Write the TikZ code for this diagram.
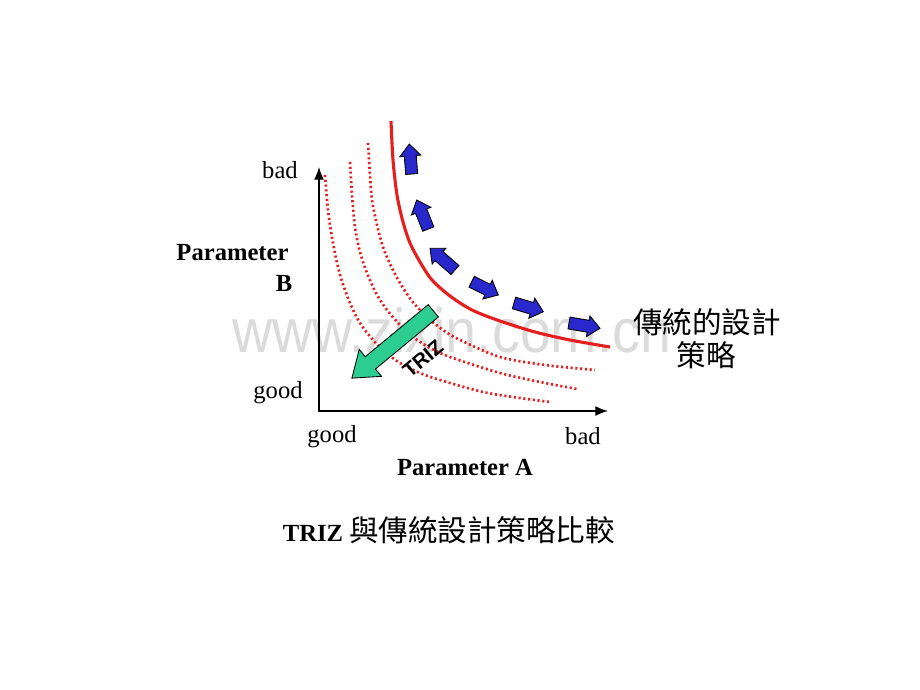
\documentclass[tikz,border=0pt]{standalone}
\usepackage{fontspec}
\setmainfont{Liberation Serif}
\setsansfont{Liberation Sans}
\newfontfamily\cjk{Noto Sans CJK TC}
\usetikzlibrary{arrows.meta}
\definecolor{curvered}{RGB}{230,30,30}
\definecolor{moveblue}{RGB}{40,40,205}
\definecolor{trizgreen}{RGB}{45,205,145}
\newcommand{\blockarrow}[8]{% tail x, tail y, tip x, tip y, shaft half width, head half width, head length, options
\pgfmathsetmacro{\arrowangle}{atan2(#2-#4,#3-#1)}
\pgfmathsetmacro{\arrowlen}{veclen(#3-#1,#4-#2)}
\draw[#8,shift={(#1,#2)},rotate=\arrowangle] (0,-#5) -- (\arrowlen-#7,-#5) -- (\arrowlen-#7,-#6) -- (\arrowlen,0)
  -- (\arrowlen-#7,#6) -- (\arrowlen-#7,#5) -- (0,#5) -- cycle;
}

\begin{document}
\begin{tikzpicture}[x=0.025cm,y=-0.025cm,>={Latex[length=9pt,width=7pt]},
	lbl/.style={font=\fontsize{17.5}{20}\selectfont},
	blbl/.style={font=\fontsize{17.5}{20}\selectfont\bfseries},
	cjklbl/.style={font=\fontsize{21}{24}\selectfont\cjk},
	dots/.style={curvered,line width=1.9pt,dash pattern=on 1.5pt off 1.9pt},
	move/.style={fill=moveblue,draw=black,line width=0.6pt},
	smooth]
	\useasboundingbox (0,0) rectangle (920,690);
	% watermark
	\node[text=black!14,font=\fontsize{44}{50}\selectfont\sffamily,xscale=0.9] (mark) at (452,330) {www.zixin.com.cn};
	
	\coordinate (O) at (319,411);
	\coordinate (xend) at (608,411);
	\coordinate (yend) at (319,167);
	\draw[<->,line width=0.9pt] (yend) -- (O) -- (xend);
	
	\draw[dots] plot coordinates {(325,175) (328,210) (333,243) (340,275) (350,303) (360,323) (373,340) (385,352) (400,363) (420,373) (440,380) (483,392) (520,398) (550,402)};
	\draw[dots] plot coordinates {(350,162) (352,195) (355,227) (360,252) (367,273) (376,293) (387,310) (400,325) (413,337) (430,348) (450,357) (500,373) (540,382) (577,389)};
	\draw[dots] plot coordinates {(368,143) (370,175) (372,200) (377,225) (383,247) (391,266) (400,283) (412,301) (427,317) (443,330) (460,340) (500,357) (545,365) (595,370)};
	\draw[curvered,line width=2.2pt] plot coordinates {(391,121) (393,160) (397,195) (403,222) (410,243) (420,262) (432,280) (450,296) (472,310) (500,321) (535,332) (570,340) (610,347)};
	
	\blockarrow{411.7}{174}{409.3}{144}{6}{10.5}{12}{move}
	\blockarrow{428.3}{229}{416.7}{200}{6}{10.5}{12}{move}
	\blockarrow{455}{270}{430}{248.3}{6}{10.5}{12}{move}
	\blockarrow{471.7}{281.7}{498.3}{295}{6}{10.5}{12}{move}
	\blockarrow{514}{303}{543.3}{311.7}{6}{10.5}{12}{move}
	\blockarrow{569}{323}{600}{328.3}{6}{10.5}{12}{move}
	
	\blockarrow{433.3}{310.8}{351.7}{378.3}{8}{17.5}{24}{fill=trizgreen,draw=black,line width=0.6pt}
	\node[font=\fontsize{14.5}{16}\selectfont\sffamily\bfseries,rotate=40] (trizlbl) at (423,359) {TRIZ};
	
	\node[lbl] (ybad) at (280,170) {bad};
	\node[blbl] (ypar) at (232.5,253) {Parameter};
	\node[blbl] (yparb) at (284,283) {B};
	\node[lbl] (ygood) at (278,393) {good};
	\node[lbl] (xgood) at (332,437) {good};
	\node[lbl] (xbad) at (583,436) {bad};
	\node[blbl] (xpar) at (465,467) {Parameter A};
	\node[cjklbl] (trad1) at (707,322) {傳統的設計};
	\node[cjklbl] (trad2) at (706,355) {策略};
	\node (caption) at (449,530) {\fontsize{17.5}{20}\selectfont\bfseries TRIZ \cjk\fontsize{21}{24}\selectfont\mdseries 與傳統設計策略比較};
\end{tikzpicture}
\end{document}
